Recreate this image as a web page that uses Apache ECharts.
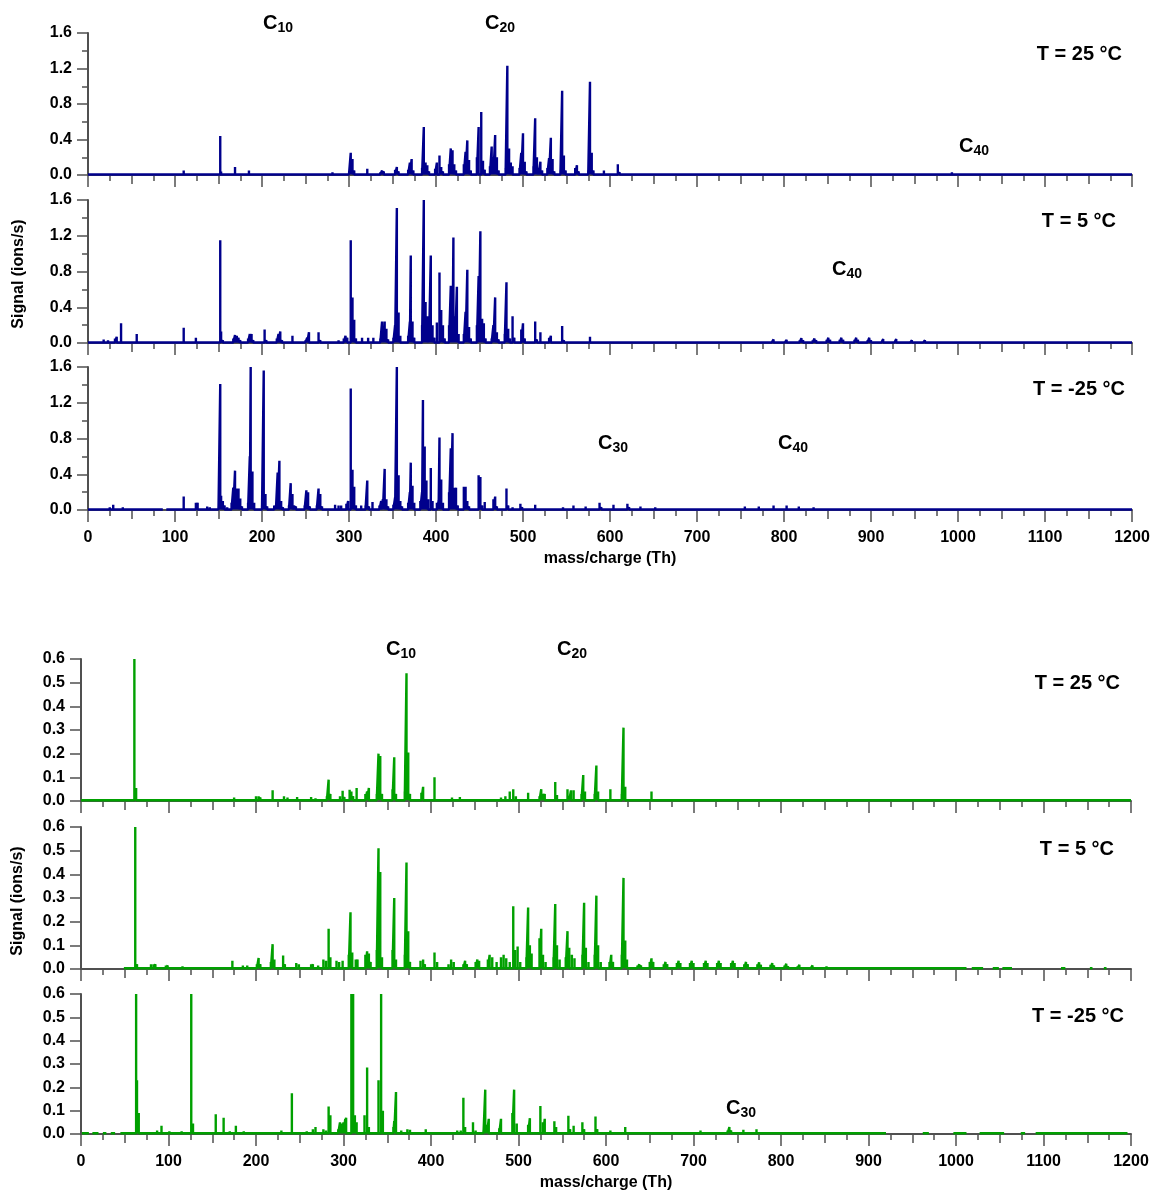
<!DOCTYPE html>
<html>
<head>
<meta charset="utf-8">
<script src="https://cdn.jsdelivr.net/npm/echarts@6/dist/echarts.min.js"></script>
<style>
html,body{margin:0;padding:0;background:#fff;}
#chart{width:1153px;height:1192px;}
</style>
</head>
<body>
<div id="chart"></div>
<script>
// ---------------- DATA ----------------
// x axis: mass/charge (Th); y axis: Signal (ions/s)
const xTickLabels = [0,100,200,300,400,500,600,700,800,900,1000,1100,1200];
const blueYTicks = [0.0,0.4,0.8,1.2,1.6];
const greenYTicks = [0.0,0.1,0.2,0.3,0.4,0.5,0.6];
const panelLabels = ['T = 25 °C','T = 5 °C','T = -25 °C','T = 25 °C','T = 5 °C','T = -25 °C'];

// Blue, T = 25 °C
const mzB25  = [25,30,40,110,124,152,153,169,185,203,220,235,265,281,300,302,304,306,321,323,336,338,340,353,355,357,368,370,372,374,384,386,388,390,392,399,401,404,406,408,415,417,419,421,423,432,434,436,438,440,447,449,452,454,456,462,464,466,468,470,472,480,482,484,486,488,496,498,500,502,504,512,514,516,518,520,522,528,530,532,534,536,543,545,547,549,560,562,564,575,577,579,581,593,609,611,620,930,950,970,993,1007,1025,1039,1057,1071,1088,1103];
const sigB25 = [0.02,0.02,0.02,0.05,0.02,0.44,0.04,0.09,0.05,0.01,0.01,0.01,0.02,0.03,0.02,0.25,0.18,0.05,0.07,0.02,0.03,0.05,0.04,0.06,0.09,0.04,0.06,0.14,0.18,0.05,0.08,0.54,0.14,0.11,0.04,0.07,0.14,0.22,0.09,0.04,0.12,0.30,0.28,0.12,0.05,0.12,0.26,0.39,0.17,0.05,0.20,0.54,0.71,0.16,0.06,0.10,0.32,0.20,0.45,0.20,0.05,0.08,1.23,0.30,0.14,0.10,0.08,0.25,0.47,0.15,0.04,0.10,0.64,0.20,0.08,0.15,0.05,0.08,0.19,0.42,0.18,0.04,0.05,0.95,0.22,0.05,0.08,0.11,0.04,0.05,1.05,0.25,0.05,0.05,0.12,0.03,0.01,0.01,0.01,0.015,0.03,0.025,0.02,0.025,0.02,0.02,0.015,0.015];

// Blue, T = 5 °C
const mzB5  = [18,23,31,33,38,56,110,124,137,152,153,155,167,169,171,173,175,184,186,188,190,203,205,217,219,221,223,235,237,250,252,254,265,267,280,288,294,296,298,302,304,306,308,315,322,328,336,338,340,341,343,345,351,353,355,357,359,368,370,371,373,375,384,386,388,390,392,394,396,398,401,404,406,408,410,415,417,419,420,422,424,426,432,434,436,438,440,447,449,451,453,455,457,464,466,468,470,472,479,481,483,485,488,490,498,500,502,514,516,520,530,532,534,545,547,561,577,755,773,786,788,790,801,803,805,818,820,822,833,835,837,849,851,853,864,866,868,881,883,885,896,898,900,912,914,916,927,929,931,945,947,960,962,980,1000];
const sigB5 = [0.04,0.03,0.05,0.07,0.22,0.10,0.17,0.06,0.02,1.15,0.13,0.03,0.05,0.09,0.08,0.06,0.03,0.05,0.10,0.10,0.03,0.15,0.03,0.05,0.10,0.13,0.03,0.08,0.02,0.03,0.06,0.12,0.12,0.03,0.02,0.03,0.05,0.08,0.06,1.15,0.51,0.26,0.05,0.06,0.06,0.06,0.05,0.24,0.15,0.24,0.16,0.04,0.06,0.20,1.51,0.34,0.08,0.08,0.24,0.98,0.24,0.06,0.20,1.60,0.46,0.30,0.10,0.98,0.20,0.06,0.23,0.79,0.37,0.20,0.05,0.20,0.64,0.35,1.18,0.30,0.63,0.10,0.10,0.35,0.82,0.18,0.05,0.20,0.75,1.25,0.27,0.22,0.05,0.05,0.20,0.51,0.12,0.04,0.10,0.68,0.16,0.05,0.30,0.06,0.15,0.22,0.05,0.24,0.04,0.12,0.06,0.08,0.02,0.19,0.03,0.02,0.07,0.01,0.015,0.02,0.04,0.02,0.02,0.035,0.02,0.03,0.055,0.03,0.03,0.05,0.03,0.035,0.06,0.035,0.035,0.06,0.035,0.035,0.06,0.035,0.03,0.06,0.03,0.025,0.045,0.025,0.025,0.045,0.02,0.015,0.03,0.015,0.03,0.01,0.008];

// Blue, T = -25 °C
const mzBm25  = [25,29,40,110,124,126,137,140,144,150,152,153,155,157,160,165,167,169,171,173,175,177,184,186,187,189,191,200,202,204,206,214,216,218,220,222,224,231,233,235,237,239,249,251,253,255,263,265,267,269,284,288,291,297,299,302,304,306,308,314,319,321,323,327,335,337,339,341,343,345,351,353,355,357,359,361,368,370,371,373,375,382,384,385,387,389,391,394,396,401,403,404,406,408,415,417,419,421,423,425,432,434,436,438,449,451,453,456,466,468,470,481,483,488,497,499,514,529,540,546,558,572,588,590,604,620,622,635,652,668,684,700,720,738,755,757,771,773,788,790,803,805,817,819,834,850,865,881,897];
const sigBm25 = [0.03,0.06,0.03,0.15,0.08,0.08,0.04,0.03,0.02,0.04,1.41,0.16,0.10,0.05,0.03,0.08,0.25,0.44,0.24,0.24,0.13,0.04,0.08,0.60,1.60,0.43,0.08,0.05,1.56,0.18,0.04,0.05,0.05,0.42,0.55,0.10,0.03,0.05,0.30,0.18,0.05,0.04,0.05,0.22,0.20,0.04,0.05,0.24,0.18,0.04,0.06,0.05,0.05,0.07,0.10,1.36,0.45,0.26,0.05,0.05,0.05,0.33,0.04,0.09,0.05,0.10,0.12,0.46,0.12,0.04,0.06,0.14,1.60,0.39,0.10,0.04,0.08,0.20,0.53,0.27,0.08,0.10,0.20,1.23,0.71,0.33,0.12,0.47,0.10,0.08,0.10,0.81,0.34,0.08,0.20,0.69,0.86,0.25,0.25,0.05,0.26,0.26,0.10,0.04,0.39,0.37,0.05,0.09,0.12,0.15,0.04,0.24,0.05,0.03,0.07,0.03,0.06,0.02,0.02,0.03,0.05,0.04,0.08,0.03,0.06,0.07,0.03,0.04,0.03,0.02,0.01,0.01,0.01,0.015,0.04,0.02,0.04,0.02,0.05,0.02,0.05,0.02,0.04,0.02,0.03,0.025,0.02,0.01,0.01];

// Green, T = 25 °C
const mzG25  = [61,63,73,85,100,114,133,160,175,190,200,203,205,219,222,232,236,241,247,263,268,275,281,283,285,296,299,301,307,309,311,315,325,327,329,338,340,342,344,356,358,360,370,372,374,376,389,391,393,404,406,424,433,450,468,480,485,490,494,497,511,513,524,526,528,530,542,544,556,558,560,563,572,574,576,587,589,591,605,607,618,620,622,624,637,652,654];
const sigG25 = [0.6,0.055,0.01,0.01,0.01,0.01,0.01,0.005,0.015,0.01,0.02,0.02,0.015,0.045,0.01,0.02,0.015,0.01,0.017,0.017,0.012,0.01,0.02,0.09,0.03,0.02,0.043,0.017,0.048,0.04,0.02,0.055,0.03,0.04,0.055,0.03,0.2,0.19,0.03,0.05,0.185,0.03,0.04,0.54,0.205,0.03,0.035,0.06,0.01,0.1,0.01,0.015,0.017,0.01,0.01,0.015,0.02,0.04,0.05,0.02,0.035,0.01,0.02,0.05,0.03,0.03,0.08,0.025,0.05,0.02,0.045,0.045,0.03,0.11,0.04,0.03,0.15,0.04,0.05,0.01,0.03,0.31,0.06,0.01,0.01,0.04,0.01];

// Green, T = 5 °C
const mzG5  = [62,64,70,80,83,85,97,99,113,116,126,131,157,173,175,185,190,201,203,205,217,219,221,231,233,246,249,263,265,271,277,280,283,285,292,295,299,306,308,310,314,316,325,327,329,331,338,340,342,344,356,358,360,370,372,374,376,388,391,393,404,407,420,423,426,437,439,441,451,453,455,465,467,470,475,480,483,486,490,494,496,499,502,509,511,513,515,524,526,528,531,540,542,544,547,554,556,558,561,564,573,575,577,580,587,589,591,594,604,606,608,618,620,622,624,636,638,640,650,652,654,666,668,670,681,683,685,696,698,700,712,714,716,727,729,731,743,745,747,758,760,762,773,775,777,788,790,792,804,806,808,819,821,823,834,836,852,867,883,900];
const sigG5 = [0.6,0.02,0.006,0.02,0.02,0.02,0.015,0.015,0.01,0.012,0.01,0.01,0.01,0.035,0.01,0.015,0.015,0.02,0.047,0.02,0.03,0.105,0.04,0.057,0.02,0.025,0.02,0.02,0.02,0.015,0.04,0.035,0.17,0.05,0.035,0.03,0.035,0.06,0.24,0.07,0.04,0.04,0.06,0.075,0.065,0.03,0.08,0.51,0.41,0.05,0.08,0.3,0.04,0.06,0.45,0.16,0.03,0.035,0.04,0.02,0.07,0.03,0.02,0.04,0.03,0.02,0.035,0.02,0.03,0.04,0.035,0.04,0.06,0.05,0.03,0.05,0.06,0.045,0.03,0.265,0.08,0.095,0.03,0.05,0.26,0.1,0.065,0.13,0.17,0.06,0.03,0.05,0.275,0.1,0.04,0.05,0.16,0.09,0.06,0.045,0.06,0.28,0.09,0.03,0.06,0.31,0.1,0.03,0.03,0.06,0.03,0.06,0.385,0.12,0.04,0.015,0.02,0.015,0.03,0.045,0.03,0.02,0.03,0.02,0.025,0.035,0.025,0.025,0.035,0.025,0.025,0.035,0.025,0.025,0.035,0.025,0.025,0.035,0.025,0.02,0.03,0.02,0.02,0.028,0.018,0.018,0.025,0.015,0.015,0.022,0.012,0.012,0.018,0.01,0.01,0.015,0.012,0.01,0.006,0.005];

// Green, T = -25 °C
const mzGm25  = [48,63,64,66,70,74,81,87,92,101,108,115,126,128,154,163,170,177,186,214,229,241,243,258,265,268,277,280,283,285,294,296,298,300,302,303,309,311,313,315,324,327,329,340,343,345,357,358,360,366,373,376,394,412,425,430,434,437,439,448,451,460,462,464,466,478,480,493,495,498,511,513,525,528,530,541,543,557,559,563,573,575,588,590,605,622,638,708,725,739,741,743,757,772,774,790,805];
const sigGm25 = [0.008,0.6,0.23,0.09,0.01,0.01,0.01,0.015,0.035,0.012,0.008,0.012,0.6,0.045,0.085,0.07,0.012,0.035,0.012,0.01,0.015,0.175,0.01,0.012,0.02,0.03,0.02,0.015,0.118,0.08,0.02,0.05,0.045,0.05,0.065,0.07,0.6,0.6,0.08,0.05,0.08,0.285,0.03,0.23,0.6,0.1,0.03,0.055,0.18,0.015,0.02,0.018,0.02,0.008,0.008,0.015,0.015,0.155,0.03,0.05,0.015,0.015,0.19,0.04,0.065,0.025,0.065,0.09,0.19,0.045,0.04,0.068,0.12,0.05,0.065,0.055,0.03,0.078,0.02,0.035,0.05,0.02,0.075,0.02,0.015,0.03,0.01,0.015,0.01,0.015,0.03,0.015,0.018,0.02,0.01,0.01,0.008];

// baseline stretches (m/z ranges where the trace is recorded)
const segB25 = [[0,1200]];
const segB5 = [[0,1200]];
const segBm25 = [[0,86],[90,1200]];
const segG25 = [[0,1200]];
const segG5 = [[49,1012],[1018,1031],[1042,1049],[1053,1064],[1120,1125],[1153,1156],[1169,1172]];
const segGm25 = [[1,9],[13,20],[25,29],[34,39],[45,920],[962,969],[997,1012],[1027,1055],[1074,1079],[1091,1196]];
const baseBlue = 0.006;
const baseGreen = 0.003;

// ---------------- CHART ----------------
const BLUE = '#00008c';
const GREEN = '#00a000';
const AXIS = '#505050';
const FONT = '"Liberation Sans", Arial, sans-serif';

const panels = [
  {mz:mzB25, sig:sigB25, seg:segB25, base:baseBlue, color:BLUE, max:1.6, step:0.4, minor:2, labels:false},
  {mz:mzB5, sig:sigB5, seg:segB5, base:baseBlue, color:BLUE, max:1.6, step:0.4, minor:2, labels:false},
  {mz:mzBm25, sig:sigBm25, seg:segBm25, base:baseBlue, color:BLUE, max:1.6, step:0.4, minor:2, labels:true},
  {mz:mzG25, sig:sigG25, seg:segG25, base:baseGreen, color:GREEN, max:0.6, step:0.1, minor:0, labels:false},
  {mz:mzG5, sig:sigG5, seg:segG5, base:baseGreen, color:GREEN, max:0.6, step:0.1, minor:0, labels:false},
  {mz:mzGm25, sig:sigGm25, seg:segGm25, base:baseGreen, color:GREEN, max:0.6, step:0.1, minor:0, labels:true}
];

const grids = [
  {left:88, right:21, top:33, height:142},
  {left:88, right:21, top:200, height:143},
  {left:88, right:21, top:367, height:143},
  {left:81, right:22, top:659, height:142},
  {left:81, right:22, top:827, height:142},
  {left:81, right:22, top:994, height:143}
];

// main x axes: labelled every 100, long ticks, minor ticks every 25
const xAxes = panels.map((p,i)=>({
  type:'value', gridIndex:i, position:'bottom', min:0, max:1200, interval:100,
  axisLine:{show:true, onZero:false, lineStyle:{color:AXIS, width:2}},
  axisTick:{show:true, length:12, lineStyle:{color:AXIS, width:1.5}},
  minorTick:{show:true, splitNumber:4, length:6, lineStyle:{color:AXIS, width:1.5}},
  splitLine:{show:false}, minorSplitLine:{show:false},
  axisLabel:{show:p.labels, margin:20, color:'#000', fontWeight:'bold', fontSize:16, fontFamily:FONT,
    formatter:v=> xTickLabels.indexOf(v) >= 0 ? String(v) : ''},
  name: p.labels ? 'mass/charge (Th)' : '',
  nameLocation:'middle', nameGap:41,
  nameTextStyle:{color:'#000', fontWeight:'bold', fontSize:16, fontFamily:FONT}
}));
// secondary x axes: medium ticks every 50 (drawn over the same grid)
panels.forEach((p,i)=>xAxes.push({
  type:'value', gridIndex:i, position:'bottom', offset:0, min:0, max:1200, interval:50,
  axisLine:{show:false, onZero:false}, axisTick:{show:true, length:9, lineStyle:{color:AXIS, width:1.5}},
  axisLabel:{show:false}, splitLine:{show:false}
}));

const yAxes = panels.map((p,i)=>({
  type:'value', gridIndex:i, min:0, max:p.max, interval:p.step,
  axisLine:{show:true, lineStyle:{color:AXIS, width:2}},
  axisTick:{show:true, length:11, lineStyle:{color:AXIS, width:1.5}},
  minorTick:{show:p.minor>0, splitNumber:p.minor || 5, length:6, lineStyle:{color:AXIS, width:1.5}},
  splitLine:{show:false}, minorSplitLine:{show:false},
  axisLabel:{margin:16, color:'#000', fontWeight:'bold', fontSize:16, fontFamily:FONT,
    formatter:v=>{
      const ticks = p.max > 1 ? blueYTicks : greenYTicks;
      const t = ticks.find(k=>Math.abs(k-v)<1e-6);
      return t === undefined ? '' : t.toFixed(1);
    }}
}));

function stickSeries(p, idx){
  const order = p.mz.map((m,i)=>i).sort((a,b)=>p.mz[a]-p.mz[b]);
  return p.seg.map(([a,b])=>{
    const pts = [[a,p.base]];
    order.forEach(i=>{
      const m = p.mz[i];
      if (m>=a && m<=b){ pts.push([m,p.base],[m,p.sig[i]],[m,p.base]); }
    });
    pts.push([b,p.base]);
    return {type:'line', xAxisIndex:idx, yAxisIndex:idx, data:pts, symbol:'none', showSymbol:false,
      lineStyle:{color:p.color, width:2.4, join:'bevel'}, silent:true, animation:false, clip:true, z:3};
  });
}
const series = [];
panels.forEach((p,i)=>series.push(...stickSeries(p,i)));

// annotation helpers
function tLabel(text, right, capTop){
  return {type:'text', x:right, y:capTop-4, silent:true,
    style:{text:text, fill:'#000', font:'bold 20px '+FONT, textAlign:'right', align:'right', textVerticalAlign:'top', verticalAlign:'top'}};
}
function cLabel(sub, left, capTop){
  return {type:'group', x:left, y:capTop-4, silent:true, children:[
    {type:'text', x:0, y:0, style:{text:'C', fill:'#000', font:'bold 20px '+FONT, textAlign:'left', align:'left', textVerticalAlign:'top', verticalAlign:'top'}},
    {type:'text', x:14.5, y:8, style:{text:sub, fill:'#000', font:'bold 14px '+FONT, textAlign:'left', align:'left', textVerticalAlign:'top', verticalAlign:'top'}}
  ]};
}
function yName(cx, cy){
  return {type:'text', x:cx, y:cy, rotation:Math.PI/2, silent:true,
    style:{text:'Signal (ions/s)', fill:'#000', font:'bold 16px '+FONT, textAlign:'center', align:'center', textVerticalAlign:'middle', verticalAlign:'middle'}};
}

const graphic = [
  cLabel('10',263,17), cLabel('20',485,17),
  tLabel(panelLabels[0],1122,48), cLabel('40',959,140),
  tLabel(panelLabels[1],1116,215), cLabel('40',832,263),
  tLabel(panelLabels[2],1125,383), cLabel('30',598,437), cLabel('40',778,437),
  cLabel('10',386,643), cLabel('20',557,643),
  tLabel(panelLabels[3],1120,677),
  tLabel(panelLabels[4],1114,843),
  tLabel(panelLabels[5],1124,1010), cLabel('30',726,1102),
  yName(19,274), yName(18,901)
];

const chart = echarts.init(document.getElementById('chart'), null, {renderer:'canvas'});
chart.setOption({
  backgroundColor:'#fff',
  animation:false,
  grid:grids,
  xAxis:xAxes,
  yAxis:yAxes,
  series:series,
  graphic:graphic
});
</script>
</body>
</html>
